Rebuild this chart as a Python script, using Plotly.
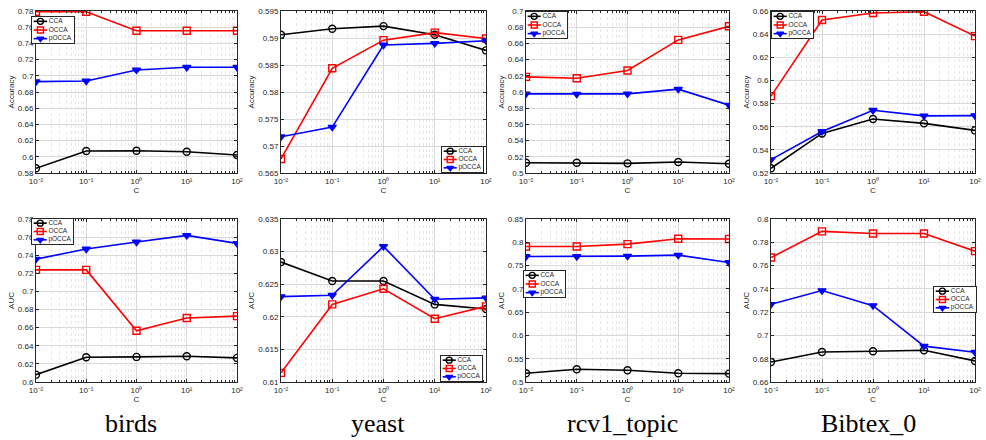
import plotly.graph_objects as go

W, H = 986, 440

# ---------------- data ----------------
C_values = [0.01, 0.1, 1, 10, 100]
x_tick_values = [0.01, 0.1, 1, 10, 100]
x_tick_labels = ["10\u207b\u00b2", "10\u207b\u00b9", "10\u2070", "10\u00b9", "10\u00b2"]
methods = ["CCA", "OCCA", "pOCCA"]
datasets = ["birds", "yeast", "rcv1_topic", "Bibtex_0"]

# Accuracy (top row)
acc_birds_cca = [0.5858, 0.6072, 0.6075, 0.6063, 0.6022]
acc_birds_occa = [0.7790, 0.7790, 0.7557, 0.7557, 0.7557]
acc_birds_pocca = [0.6928, 0.6936, 0.7072, 0.7105, 0.7105]

acc_yeast_cca = [0.5906, 0.5917, 0.5922, 0.5906, 0.5877]
acc_yeast_occa = [0.5676, 0.5844, 0.5896, 0.5910, 0.5899]
acc_yeast_pocca = [0.5717, 0.5735, 0.5887, 0.5890, 0.5895]

acc_rcv1_cca = [0.5127, 0.5127, 0.5119, 0.5136, 0.5115]
acc_rcv1_occa = [0.6187, 0.6170, 0.6265, 0.6643, 0.6811]
acc_rcv1_pocca = [0.5977, 0.5973, 0.5977, 0.6035, 0.5838]

acc_bibtex_cca = [0.5241, 0.5542, 0.5667, 0.5629, 0.5568]
acc_bibtex_occa = [0.5864, 0.6522, 0.6583, 0.6594, 0.6383]
acc_bibtex_pocca = [0.5316, 0.5559, 0.5742, 0.5694, 0.5696]

# AUC (bottom row)
auc_birds_cca = [0.6081, 0.6273, 0.6277, 0.6285, 0.6266]
auc_birds_occa = [0.7238, 0.7238, 0.6566, 0.6706, 0.6728]
auc_birds_pocca = [0.7357, 0.7468, 0.7546, 0.7619, 0.7531]

auc_yeast_cca = [0.6284, 0.6255, 0.6255, 0.6219, 0.6212]
auc_yeast_occa = [0.6114, 0.6219, 0.6243, 0.6197, 0.6216]
auc_yeast_pocca = [0.6231, 0.6233, 0.6308, 0.6227, 0.6229]

auc_rcv1_cca = [0.5187, 0.5273, 0.5252, 0.5187, 0.5180]
auc_rcv1_occa = [0.7911, 0.7911, 0.7961, 0.8076, 0.8069]
auc_rcv1_pocca = [0.7695, 0.7695, 0.7702, 0.7724, 0.7566]

auc_bibtex_cca = [0.6772, 0.6858, 0.6864, 0.6873, 0.6781]
auc_bibtex_occa = [0.7669, 0.7894, 0.7876, 0.7876, 0.7724]
auc_bibtex_pocca = [0.7267, 0.7385, 0.7256, 0.6908, 0.6856]

# y-axis ranges / tick steps (tick labels derived from them)
acc_ranges = [(0.58, 0.78, 0.02), (0.565, 0.595, 0.005), (0.5, 0.7, 0.02), (0.52, 0.66, 0.02)]
auc_ranges = [(0.6, 0.78, 0.02), (0.61, 0.635, 0.005), (0.5, 0.85, 0.05), (0.66, 0.8, 0.02)]

panels = [
    ("Accuracy", [acc_birds_cca, acc_birds_occa, acc_birds_pocca], acc_ranges[0]),
    ("Accuracy", [acc_yeast_cca, acc_yeast_occa, acc_yeast_pocca], acc_ranges[1]),
    ("Accuracy", [acc_rcv1_cca, acc_rcv1_occa, acc_rcv1_pocca], acc_ranges[2]),
    ("Accuracy", [acc_bibtex_cca, acc_bibtex_occa, acc_bibtex_pocca], acc_ranges[3]),
    ("AUC", [auc_birds_cca, auc_birds_occa, auc_birds_pocca], auc_ranges[0]),
    ("AUC", [auc_yeast_cca, auc_yeast_occa, auc_yeast_pocca], auc_ranges[1]),
    ("AUC", [auc_rcv1_cca, auc_rcv1_occa, auc_rcv1_pocca], auc_ranges[2]),
    ("AUC", [auc_bibtex_cca, auc_bibtex_occa, auc_bibtex_pocca], auc_ranges[3]),
]

# ---------------- layout / style ----------------
col_px = [(36, 237), (281, 486), (526, 729), (771, 975)]
row_px = [(11, 173), (219, 382)]
# legend boxes in pixels: (x0, x1, y0, y1)
legend_box_px = [
    (32, 74, 17, 43),
    (442, 483, 147, 172),
    (526, 567, 12, 38),
    (772, 813, 12, 38),
    (32, 73, 219, 244),
    (441, 482, 356, 381),
    (524, 565, 271, 297),
    (934, 976, 287, 312),
]
styles = [
    dict(color="black", symbol="circle-open"),
    dict(color="#ff0000", symbol="square-open"),
    dict(color="#0000ff", symbol="triangle-down"),
]
FONT = "Liberation Sans, Arial, sans-serif"
AXC = "#262626"
SAMPLE_X0, SAMPLE_X1, LABEL_X = 0.04, 0.36, 0.40
minor_x_ticks = [k * 10.0 ** e for e in range(-2, 2) for k in range(2, 10)]


def fmt(v):
    return "%g" % round(v, 6)


fig = go.Figure()
layout = dict(
    width=W, height=H, margin=dict(l=0, r=0, t=0, b=0, autoexpand=False),
    paper_bgcolor="white", plot_bgcolor="white",
    font=dict(family=FONT, size=8, color=AXC), showlegend=False,
)

for i, (ylab, series, (y0, y1, step)) in enumerate(panels):
    r, c = divmod(i, 4)
    idx = "" if i == 0 else str(i + 1)
    xa, ya = "x" + idx, "y" + idx
    for m, vals, st in zip(methods, series, styles):
        fig.add_trace(go.Scatter(
            x=C_values, y=vals, mode="lines+markers", name=m,
            line=dict(color=st["color"], width=1.6),
            marker=dict(symbol=st["symbol"], size=7, color=st["color"],
                        line=dict(color=st["color"], width=1.4)),
            xaxis=xa, yaxis=ya, showlegend=False,
        ))
    n = int(round((y1 - y0) / step))
    tv = [y0 + k * step for k in range(n + 1)]
    tt = [fmt(v) for v in tv]
    cx0, cx1 = col_px[c]
    ry0, ry1 = row_px[r]
    axis_common = dict(
        showline=True, linecolor=AXC, linewidth=1, mirror="ticks",
        ticks="inside", ticklen=3, tickcolor=AXC, automargin=False,
        showgrid=True, gridcolor="#d9d9d9", gridwidth=1,
        zeroline=False, tickfont=dict(size=8, family=FONT, color=AXC),
    )
    layout["xaxis" + idx] = dict(
        axis_common, type="log", range=[-2, 2],
        domain=[cx0 / W, cx1 / W], anchor=ya,
        tickvals=x_tick_values, ticktext=x_tick_labels,
        minor=dict(tickvals=minor_x_ticks, ticks="inside", ticklen=2, showgrid=True,
                   gridcolor="#e6e6e6", griddash="dot", gridwidth=0.8, tickcolor=AXC),
        title=dict(text="C", standoff=1, font=dict(size=8, family=FONT, color=AXC)),
    )
    layout["yaxis" + idx] = dict(
        axis_common, range=[y0, y1],
        domain=[1 - ry1 / H, 1 - ry0 / H], anchor=xa,
        tickvals=tv, ticktext=tt,
        title=dict(text=ylab, standoff=2, font=dict(size=8, family=FONT, color=AXC)),
    )

# ---- per-panel legend boxes drawn in small inset axes ----
for i in range(len(panels)):
    j = str(len(panels) + i + 1)
    xa, ya = "x" + j, "y" + j
    bx0, bx1, by0, by1 = legend_box_px[i]
    nm = len(methods)
    fig.add_trace(go.Scatter(
        x=[0, 1, 1, 0, 0], y=[0, 0, nm, nm, 0], mode="lines", fill="toself",
        fillcolor="white", line=dict(width=0, color="white"),
        xaxis=xa, yaxis=ya, hoverinfo="skip", showlegend=False,
    ))
    for k, (m, st) in enumerate(zip(methods, styles)):
        yk = k + 0.5
        fig.add_trace(go.Scatter(
            x=[SAMPLE_X0, SAMPLE_X1], y=[yk, yk], mode="lines",
            line=dict(color=st["color"], width=1.6),
            xaxis=xa, yaxis=ya, hoverinfo="skip", showlegend=False,
        ))
        fig.add_trace(go.Scatter(
            x=[(SAMPLE_X0 + SAMPLE_X1) / 2], y=[yk], mode="markers",
            marker=dict(symbol=st["symbol"], size=6, color=st["color"],
                        line=dict(color=st["color"], width=1.4)),
            xaxis=xa, yaxis=ya, hoverinfo="skip", showlegend=False,
        ))
        fig.add_trace(go.Scatter(
            x=[LABEL_X], y=[yk], mode="text", text=[m], textposition="middle right",
            textfont=dict(size=6.5, family=FONT, color=AXC),
            xaxis=xa, yaxis=ya, hoverinfo="skip", showlegend=False, cliponaxis=False,
        ))
    inset = dict(showline=True, linecolor=AXC, linewidth=1, mirror=True,
                 showgrid=False, zeroline=False, showticklabels=False, ticks="",
                 automargin=False, fixedrange=True)
    layout["xaxis" + j] = dict(inset, range=[0, 1], domain=[bx0 / W, bx1 / W], anchor=ya)
    layout["yaxis" + j] = dict(inset, range=[nm, 0], domain=[1 - by1 / H, 1 - by0 / H], anchor=xa)

fig.update_layout(**layout)

title_x = [131, 378, 622, 868]
for name, tx in zip(datasets, title_x):
    fig.add_annotation(
        text=name, x=tx / W, y=0, xref="paper", yref="paper",
        xanchor="center", yanchor="bottom", showarrow=False,
        font=dict(size=26, family="Liberation Serif, Times New Roman, serif", color="black"),
    )

fig.write_html("out.html", config={"displayModeBar": False},
               post_script="document.body.style.margin='0';")
